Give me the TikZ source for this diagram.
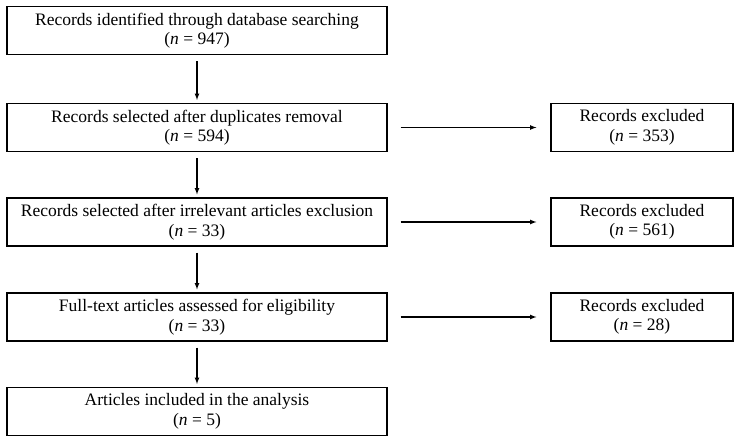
\documentclass[tikz,border=0pt]{standalone}
\usepackage{fontspec}
\setmainfont{Liberation Serif}
\usetikzlibrary{positioning}
\tikzset{>=latex}

\begin{document}
\begin{tikzpicture}[x=1pt, y=-1pt, thick,
  stagebox/.style={draw, line width=1.1pt, minimum width=380pt, minimum height=48pt,
    inner sep=0pt, align=center, font=\fontsize{17.5}{19.5}\selectfont},
  exclbox/.style={stagebox, minimum width=182pt},
  flow/.style={->, line width=1.2pt}]
  \useasboundingbox (0,0) rectangle (740,442);

  % Main stages
  \node[stagebox] (ident) at (197, 30.5) {Records identified through database searching\\(\textit{n} = 947)};
  \node[stagebox] (dupl) at (197, 127.5) {Records selected after duplicates removal\\(\textit{n} = 594)};
  \node[stagebox] (irrel) at (197, 222) {Records selected after irrelevant articles exclusion\\(\textit{n} = 33)};
  \node[stagebox] (full) at (197, 317) {Full-text articles assessed for eligibility\\(\textit{n} = 33)};
  \node[stagebox] (incl) at (197, 411.5) {Articles included in the analysis\\(\textit{n} = 5)};

  % Exclusions
  \node[exclbox] (excla) at (642, 127.5) {Records excluded\\(\textit{n} = 353)};
  \node[exclbox] (exclb) at (642, 222) {Records excluded\\(\textit{n} = 561)};
  \node[exclbox] (exclc) at (642, 317) {Records excluded\\(\textit{n} = 28)};

  % Arrows
  \draw[flow, shorten <=6pt, shorten >=3pt] (ident) -- (dupl);
  \draw[flow, shorten <=6pt, shorten >=3pt] (dupl) -- (irrel);
  \draw[flow, shorten <=6pt, shorten >=3pt] (irrel) -- (full);
  \draw[flow, shorten <=6pt, shorten >=3pt] (full) -- (incl);

  \draw[flow, shorten <=13pt, shorten >=14pt] (dupl) -- (excla);
  \draw[flow, shorten <=13pt, shorten >=14pt] (irrel) -- (exclb);
  \draw[flow, shorten <=13pt, shorten >=14pt] (full) -- (exclc);

\end{tikzpicture}
\end{document}
